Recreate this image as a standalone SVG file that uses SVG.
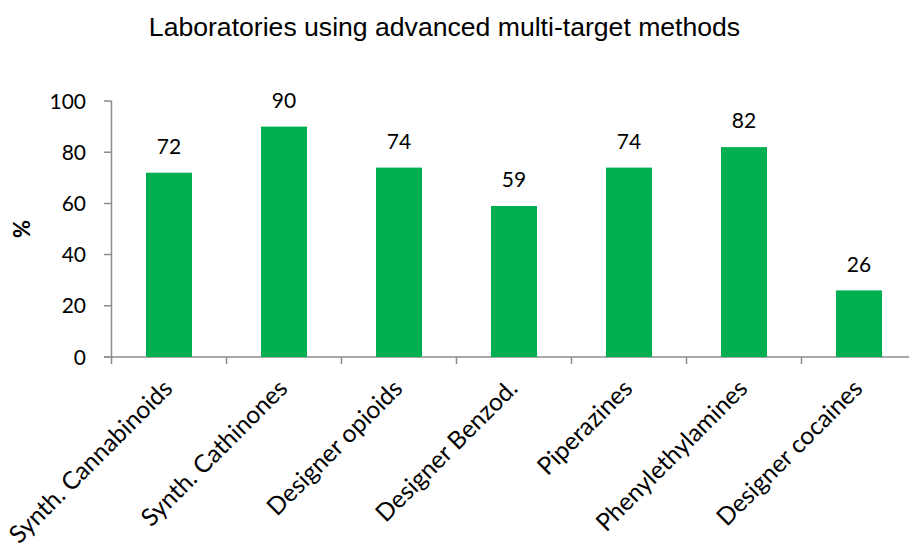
<svg xmlns="http://www.w3.org/2000/svg" width="909" height="543" viewBox="0 0 909 543">
<style>
.title{font-family:"Liberation Sans",Arial,sans-serif;font-size:26.6px;fill:#000}
.val{font-family:Lato,"Open Sans",sans-serif;font-size:21px;fill:#000;text-anchor:middle}
.tick{font-family:Lato,"Open Sans",sans-serif;font-size:21px;fill:#000;text-anchor:end}
.cat{font-family:Lato,"Open Sans",sans-serif;font-size:24.5px;fill:#000;text-anchor:end}
.bar{fill:#00B050}
.ax{stroke:#8c8c8c;stroke-width:1.5;fill:none}
</style>
<rect width="909" height="543" fill="#fff"/>
<text class="title" x="444.5" y="36" text-anchor="middle">Laboratories using advanced multi-target methods</text>
<g id="yaxis">
<path class="ax" d="M111.5,101 V364 M104,101 H111.5 M104,152.2 H111.5 M104,203.4 H111.5 M104,254.6 H111.5 M104,305.8 H111.5 M104,357 H111.5"/>
<text class="tick" x="86" y="108.5">100</text>
<text class="tick" x="86" y="159.7">80</text>
<text class="tick" x="86" y="210.9">60</text>
<text class="tick" x="86" y="262.1">40</text>
<text class="tick" x="86" y="313.3">20</text>
<text class="tick" x="86" y="364.5">0</text>
<text x="30" y="229" transform="rotate(-90 30 229)" text-anchor="middle" style="font-family:Lato,'Open Sans',sans-serif;font-size:22px;font-weight:bold">%</text>
</g>
<g id="xaxis">
<path class="ax" d="M104,357 H909 M226.5,357 V364 M341.5,357 V364 M456.5,357 V364 M571.5,357 V364 M686.5,357 V364 M801.5,357 V364"/>
</g>
<g id="bar1"><rect class="bar" x="146" y="172.7" width="46" height="184.3"/><text class="val" x="169" y="153.5">72</text><text class="cat" transform="translate(174,390) rotate(-45)">Synth. Cannabinoids</text></g>
<g id="bar2"><rect class="bar" x="261" y="126.6" width="46" height="230.4"/><text class="val" x="284" y="107.5">90</text><text class="cat" transform="translate(289,390) rotate(-45)">Synth. Cathinones</text></g>
<g id="bar3"><rect class="bar" x="376" y="167.6" width="46" height="189.4"/><text class="val" x="399" y="148.5">74</text><text class="cat" transform="translate(404,390) rotate(-45)">Designer opioids</text></g>
<g id="bar4"><rect class="bar" x="491" y="206" width="46" height="151"/><text class="val" x="514" y="187">59</text><text class="cat" transform="translate(519,390) rotate(-45)">Designer Benzod.</text></g>
<g id="bar5"><rect class="bar" x="606" y="167.6" width="46" height="189.4"/><text class="val" x="629" y="148.5">74</text><text class="cat" transform="translate(634,390) rotate(-45)">Piperazines</text></g>
<g id="bar6"><rect class="bar" x="721" y="147.1" width="46" height="209.9"/><text class="val" x="744" y="128">82</text><text class="cat" transform="translate(749,390) rotate(-45)">Phenylethylamines</text></g>
<g id="bar7"><rect class="bar" x="836" y="290.4" width="46" height="66.6"/><text class="val" x="859" y="271.5">26</text><text class="cat" transform="translate(864,390) rotate(-45)">Designer cocaines</text></g>
</svg>
